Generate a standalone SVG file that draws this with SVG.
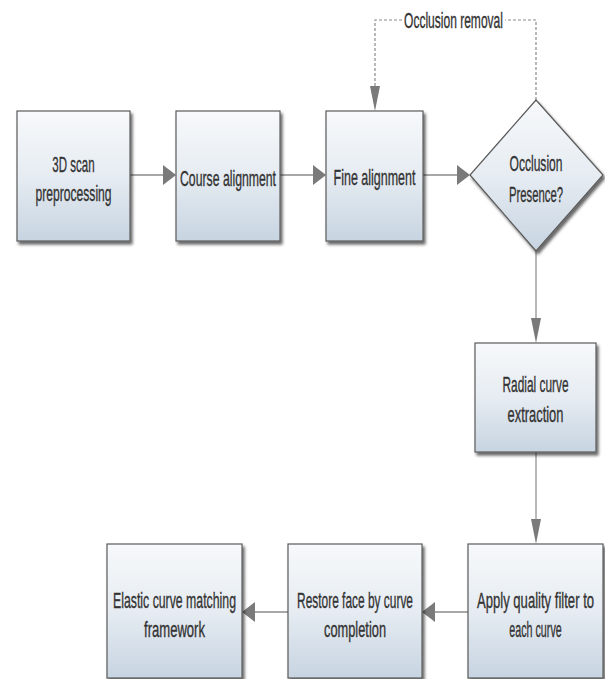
<svg xmlns="http://www.w3.org/2000/svg" width="605" height="679" viewBox="0 0 605 679">
<style>
.box{fill:url(#g);stroke:#5a5a5a;stroke-width:1.2;filter:url(#sh)}
.t{font-family:"Liberation Sans",Arial,sans-serif;font-size:22px;fill:#333;stroke:#333;stroke-width:0.35;text-anchor:middle}
.ln{stroke:#a8a8a8;stroke-width:2;fill:none}
.ah{fill:#7a7a7a}
.dash{stroke:#8a8a8a;stroke-width:1.2;fill:none;stroke-dasharray:3,2}
</style>
<defs>
<linearGradient id="g" x1="0" y1="0" x2="0" y2="1">
<stop offset="0" stop-color="#f7f9fb"/>
<stop offset="0.5" stop-color="#e6ecf2"/>
<stop offset="1" stop-color="#c7d4e1"/>
</linearGradient>
<filter id="sh" x="-10%" y="-10%" width="130%" height="130%">
<feDropShadow dx="2" dy="3" stdDeviation="1.5" flood-color="#000" flood-opacity="0.6"/>
</filter>
</defs>
<rect width="605" height="679" fill="#fff"/>
<g id="connectors">
<line class="ln" x1="130" y1="175" x2="164" y2="175"/>
<polygon class="ah" points="176,175 163,165 163,185"/>
<line class="ln" x1="280" y1="175" x2="314" y2="175"/>
<polygon class="ah" points="326,175 313,165 313,185"/>
<line class="ln" x1="423" y1="175" x2="458" y2="175"/>
<polygon class="ah" points="470,175 457,165 457,185"/>
<line class="ln" x1="536" y1="251" x2="536" y2="322" style="stroke-width:1.6"/>
<polygon class="ah" points="536,343 531,318 541,318"/>
<line class="ln" x1="536" y1="452" x2="536" y2="522" style="stroke-width:1.6"/>
<polygon class="ah" points="536,544 531,519 541,519"/>
<line class="ln" x1="468" y1="612" x2="434" y2="612"/>
<polygon class="ah" points="422,612 435,602 435,622"/>
<line class="ln" x1="288" y1="612" x2="254" y2="612"/>
<polygon class="ah" points="242,612 255,602 255,622"/>
<polyline class="dash" points="536,100 536,20 505,20"/>
<polyline class="dash" points="402,20 375,20 375,88"/>
<polygon class="ah" points="375,111 370,86 380,86"/>
<text class="t" transform="translate(453.5,28) scale(0.547,1)">Occlusion removal</text>
</g>
<g id="n1">
<rect class="box" x="17" y="111" width="113" height="130"/>
<text class="t" transform="translate(73.5,172) scale(0.525,1)">3D scan</text>
<text class="t" transform="translate(73.5,201) scale(0.551,1)">preprocessing</text>
</g>
<g id="n2">
<rect class="box" x="176" y="111" width="104" height="130"/>
<text class="t" transform="translate(228,186) scale(0.557,1)">Course alignment</text>
</g>
<g id="n3">
<rect class="box" x="326" y="111" width="97" height="130"/>
<text class="t" transform="translate(374.5,185) scale(0.568,1)">Fine alignment</text>
</g>
<g id="n4">
<polygon class="box" points="536,100 603,175 536,251 470,175"/>
<text class="t" transform="translate(536,171) scale(0.549,1)">Occlusion</text>
<text class="t" transform="translate(536,202) scale(0.515,1)">Presence?</text>
</g>
<g id="n5">
<rect class="box" x="475" y="343" width="121" height="109"/>
<text class="t" transform="translate(535.5,392) scale(0.54,1)">Radial curve</text>
<text class="t" transform="translate(535.5,422) scale(0.587,1)">extraction</text>
</g>
<g id="n6">
<rect class="box" x="468" y="544" width="135" height="134"/>
<text class="t" transform="translate(535.5,608) scale(0.595,1)">Apply quality filter to</text>
<text class="t" transform="translate(535.5,637) scale(0.487,1)">each curve</text>
</g>
<g id="n7">
<rect class="box" x="288" y="544" width="134" height="134"/>
<text class="t" transform="translate(355,608) scale(0.542,1)">Restore face by curve</text>
<text class="t" transform="translate(355,637) scale(0.583,1)">completion</text>
</g>
<g id="n8">
<rect class="box" x="107" y="544" width="135" height="134"/>
<text class="t" transform="translate(174.5,608) scale(0.559,1)">Elastic curve matching</text>
<text class="t" transform="translate(174.5,637) scale(0.594,1)">framework</text>
</g>
</svg>
